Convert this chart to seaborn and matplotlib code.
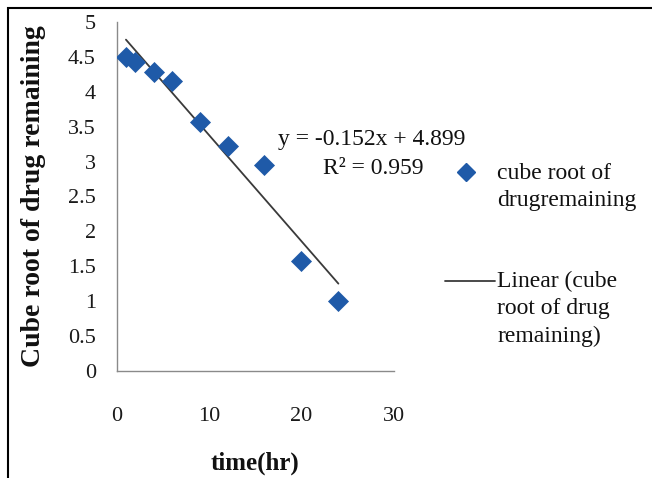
import matplotlib
matplotlib.use("Agg")
import matplotlib.pyplot as plt
import seaborn as sns
import numpy as np
import pandas as pd
from matplotlib.patches import Rectangle
from matplotlib.lines import Line2D

# ---- data ----
time_hr = [1, 2, 4, 6, 9, 12, 16, 20, 24]
cube_root = [4.50, 4.42, 4.28, 4.16, 3.57, 3.22, 2.95, 1.58, 1.00]
fit_slope = -0.152
fit_intercept = 4.899
x_ticks = [0, 10, 20, 30]
y_ticks = [0, 0.5, 1, 1.5, 2, 2.5, 3, 3.5, 4, 4.5, 5]
y_tick_labels = ["0", "0.5", "1", "1.5", "2", "2.5", "3", "3.5", "4", "4.5", "5"]
series_label = "cube root of\ndrugremaining"
fit_label = "Linear (cube\nroot of drug\nremaining)"
eq_text = "y = -0.152x + 4.899"
r2_text = "R² = 0.959"

sns.set_theme(style="white")
plt.rcParams['font.family'] = ['Liberation Serif', 'DejaVu Serif']

df = pd.DataFrame({"time": time_hr, "cube": cube_root})
fit_x = [min(time_hr), max(time_hr)]
fit_df = pd.DataFrame({"time": fit_x,
                       "cube": [fit_slope * v + fit_intercept for v in fit_x]})

fig = plt.figure(figsize=(6.52, 4.78), dpi=100)
ax = fig.add_axes([0.179, 0.224, 0.425, 0.730])

blue = "#1f5aa8"
line_col = "#3a3a3a"
sns.lineplot(data=fit_df, x="time", y="cube", ax=ax, color=line_col, linewidth=1.3)
sns.scatterplot(data=df, x="time", y="cube", ax=ax, marker="D", s=115,
                color=blue, edgecolor=blue, linewidth=0, zorder=3)

ax.set_xlim(0, 30)
ax.set_ylim(0, 5)
ax.set_xticks(x_ticks)
ax.set_yticks(y_ticks)
ax.set_yticklabels(y_tick_labels)
for s in ["top", "right"]:
    ax.spines[s].set_visible(False)
for s in ["left", "bottom"]:
    ax.spines[s].set_color("#8a8a8a")
    ax.spines[s].set_linewidth(1.0)
ax.tick_params(axis="both", which="major", direction="out", length=5, width=1,
               color="#8a8a8a", labelsize=16, labelcolor="#1a1a1a")
ax.tick_params(axis="x", pad=21)
ax.tick_params(axis="y", pad=10)
ax.set_xlabel("time(hr)", fontsize=18, fontweight="bold", color="#111111")
ax.xaxis.set_label_coords(0.5, -0.232)
ax.set_ylabel("Cube root of drug remaining", fontsize=20, fontweight="bold",
              color="#111111")
ax.yaxis.set_label_coords(-0.255, 0.5)
ax.grid(False)

# equation text
fig.text(372 / 652, 1 - 139 / 478, eq_text, fontsize=17, ha="center", va="center",
         color="#111111")
fig.text(373 / 652, 1 - 168 / 478, r2_text, fontsize=17, ha="center", va="center",
         color="#111111")

# custom legend
fig.lines.append(Line2D([466 / 652], [1 - 172 / 478], marker="D", markersize=9,
                        color=blue, linestyle="none", transform=fig.transFigure))
fig.text(497 / 652, 1 - 187 / 478, series_label, fontsize=17, ha="left", va="center",
         color="#111111", linespacing=1.38)
fig.lines.append(Line2D([445 / 652, 495 / 652], [1 - 281 / 478, 1 - 281 / 478],
                        color=line_col, linewidth=1.3, transform=fig.transFigure))
fig.text(497 / 652, 1 - 309 / 478, fit_label, fontsize=17, ha="left", va="center",
         color="#111111", linespacing=1.38)

# outer frame (cut off at right/bottom)
fig.patches.append(Rectangle((8 / 652, -0.1), 1.2, 1 - 8 / 478 + 0.1, fill=False,
                             edgecolor="black", linewidth=1.5,
                             transform=fig.transFigure))

fig.savefig("out.png", dpi=100)
